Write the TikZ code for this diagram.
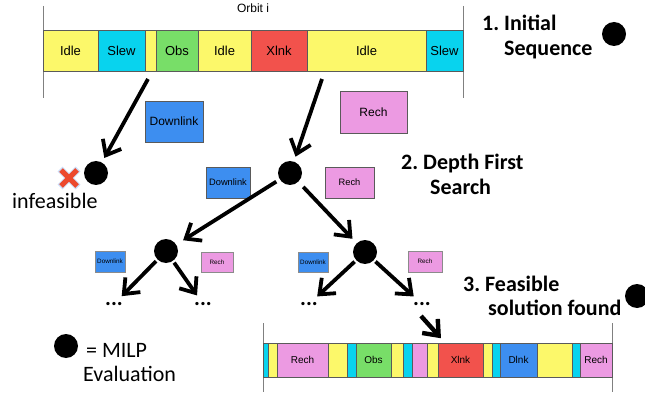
\documentclass[tikz,border=0pt]{standalone}
\usepackage{fontspec}
\setmainfont{Carlito}
\newfontfamily\boxfont{Liberation Sans}
\usetikzlibrary{arrows.meta}

\definecolor{segyellow}{HTML}{FCF86A}
\definecolor{segcyan}{HTML}{08D3EE}
\definecolor{seggreen}{HTML}{78DE68}
\definecolor{segred}{HTML}{F2524C}
\definecolor{segblue}{HTML}{3D8EF0}
\definecolor{segpink}{HTML}{EC9AE2}
\definecolor{segedge}{HTML}{5A5A5A}
\definecolor{crossred}{HTML}{EC4A2E}
\definecolor{crosshalo}{HTML}{8AB4F0}

% one coloured block of a schedule bar: name, x0, x1, y0, y1, fill, label
\newcommand\segbox[8][]{%
  \node[seg,#1,fill=#7,minimum width={(#4-#3)*1pt},minimum height={(#6-#5)*1pt}]
    (#2) at ({(#3+#4)/2},{(#5+#6)/2}) {#8};}

\tikzset{
  seg/.style={draw=segedge,line width=0.6pt,inner sep=0pt,
    font=\boxfont\fontsize{13}{15}\selectfont},
  bigtxt/.style={font=\boxfont\fontsize{12}{14}\selectfont},
  midtxt/.style={font=\boxfont\fontsize{9.3}{11}\selectfont},
  smalltxt/.style={font=\boxfont\fontsize{6.3}{7}\selectfont,draw=segedge!70,line width=0.4pt},
  bottxt/.style={font=\boxfont\fontsize{10}{12}\selectfont},
  milp/.style={circle,fill=black,minimum size=24pt,inner sep=0pt},
  heading/.style={anchor=base west,inner sep=0pt,font=\fontsize{22}{26}\selectfont\bfseries},
  plain/.style={anchor=base west,inner sep=0pt,font=\fontsize{22}{26}\selectfont},
  more/.style={inner sep=1pt,font=\fontsize{22}{26}\selectfont\bfseries},
  arr/.style={line width=3.8pt,-{Straight Barb[length=13pt,width=21pt]}},
  orbitline/.style={draw=gray,line width=0.8pt},
}

\begin{document}
\begin{tikzpicture}[x=1pt,y=-1pt]
\useasboundingbox (0,0) rectangle (645,398);
\clip (0,0) rectangle (645,398);

% ---- initial sequence over one orbit ----
\node[font=\boxfont\fontsize{12}{14}\selectfont,anchor=base] (orbit) at (253,12.5) {Orbit i};
\draw[orbitline] (43,6) -- (43,98);
\draw[orbitline] (463,6) -- (463,98);
\segbox{t1}{43}{98}{30}{71}{segyellow}{Idle}
\segbox{t2}{98}{145}{30}{71}{segcyan}{Slew}
\segbox{t3}{145}{156}{30}{71}{segyellow}{}
\segbox{t4}{156}{198}{30}{71}{seggreen}{Obs}
\segbox{t5}{198}{251}{30}{71}{segyellow}{Idle}
\segbox{t6}{251}{307}{30}{71}{segred}{Xlnk}
\segbox{t7}{307}{426}{30}{71}{segyellow}{Idle}
\segbox{t8}{426}{463}{30}{71}{segcyan}{Slew}

% ---- step captions ----
\node[heading] (h1a) at (482,31) {1.\ Initial};
\node[heading] (h1b) at (504,56) {Sequence};
\node[milp] (h1dot) at (614,34) {};
\node[heading] (h2a) at (401,170) {2.\ Depth First};
\node[heading] (h2b) at (430,195) {Search};
\node[heading] (h3a) at (463,291) {3.\ Feasible};
\node[heading] (h3b) at (488,315) {solution found};
\node[milp] (h3dot) at (637,296) {};

% ---- search tree ----
\coordinate (cutL) at (148,79);
\coordinate (cutR) at (322,79);
\node[milp] (inf) at (96,173) {};
\node[milp] (root) at (290,173) {};
\node[milp] (lc) at (166,251) {};
\node[milp] (rc) at (365,252) {};

\segbox[bigtxt]{dlA}{145}{203}{101}{142}{segblue}{Downlink}
\segbox[bigtxt]{rcA}{340}{407}{91}{133}{segpink}{Rech}
\segbox[midtxt]{dlB}{206}{250}{167}{198}{segblue}{Downlink}
\segbox[midtxt]{rcB}{325}{374}{167}{198}{segpink}{Rech}
\segbox[smalltxt]{dlC}{95}{125}{251}{272}{segblue}{Downlink}
\segbox[smalltxt]{rcC}{201}{233}{252}{272}{segpink}{Rech}
\segbox[smalltxt]{dlD}{298}{328}{252}{272}{segblue}{Downlink}
\segbox[smalltxt]{rcD}{408}{442}{251}{272}{segpink}{Rech}

\node[more] (m1) at (114,304) {...};
\node[more] (m2) at (203,304) {...};
\node[more] (m3) at (309,304) {...};
\node[more] (m4) at (422,304) {...};

\draw[arr,shorten >=5pt] (cutL) -- (inf);
\draw[arr,shorten >=5pt] (cutR) -- (root);
\draw[arr,shorten <=4pt,shorten >=8pt] (root) -- (lc);
\draw[arr,shorten <=7pt,shorten >=6pt] (root) -- (rc);
\draw[arr,shorten <=2pt,shorten >=7pt] (lc) -- (m1);
\draw[arr,shorten <=2pt,shorten >=7pt] (lc) -- (m2);
\draw[arr,shorten <=2pt,shorten >=7pt] (rc) -- (m3);
\draw[arr,shorten <=2pt,shorten >=7pt] (rc) -- (m4);

% infeasible branch marker
\draw[crosshalo,line width=7pt,opacity=0.45] (60,169) -- (78,187) (60,187) -- (78,169);
\draw[crossred,line width=5pt] (61,170) -- (77,186) (61,186) -- (77,170);
\node[plain] (inftxt) at (12,209) {infeasible};

% ---- feasible schedule ----
\draw[orbitline] (263,323) -- (263,392);
\draw[orbitline] (612,323) -- (612,392);
\segbox[bottxt]{b1}{263}{268}{343}{377}{segcyan}{}
\segbox[bottxt]{b2}{268}{277}{343}{377}{segyellow}{}
\segbox[bottxt]{b3}{277}{328}{343}{377}{segpink}{Rech}
\segbox[bottxt]{b4}{328}{347}{343}{377}{segyellow}{}
\segbox[bottxt]{b5}{347}{356}{343}{377}{segcyan}{}
\segbox[bottxt]{b6}{356}{391}{343}{377}{seggreen}{Obs}
\segbox[bottxt]{b7}{391}{403}{343}{377}{segyellow}{}
\segbox[bottxt]{b8}{403}{412}{343}{377}{segcyan}{}
\segbox[bottxt]{b9}{412}{427}{343}{377}{segpink}{}
\segbox[bottxt]{b10}{427}{438}{343}{377}{segyellow}{}
\segbox[bottxt]{b11}{438}{483}{343}{377}{segred}{Xlnk}
\segbox[bottxt]{b12}{483}{492}{343}{377}{segyellow}{}
\segbox[bottxt]{b13}{492}{500}{343}{377}{segcyan}{}
\segbox[bottxt]{b14}{500}{537}{343}{377}{segblue}{Dlnk}
\segbox[bottxt]{b15}{537}{572}{343}{377}{segyellow}{}
\segbox[bottxt]{b16}{572}{580}{343}{377}{segcyan}{}
\segbox[bottxt]{b17}{580}{612}{343}{377}{segpink}{Rech}

\coordinate (found) at (421,316);
\draw[arr,line width=4.4pt,shorten >=6pt] (found) -- (b11);

% ---- legend ----
\node[milp] (legdot) at (66,346) {};
\node[plain] (leg1) at (86,357) {= MILP};
\node[plain] (leg2) at (83,381) {Evaluation};
\end{tikzpicture}
\end{document}
